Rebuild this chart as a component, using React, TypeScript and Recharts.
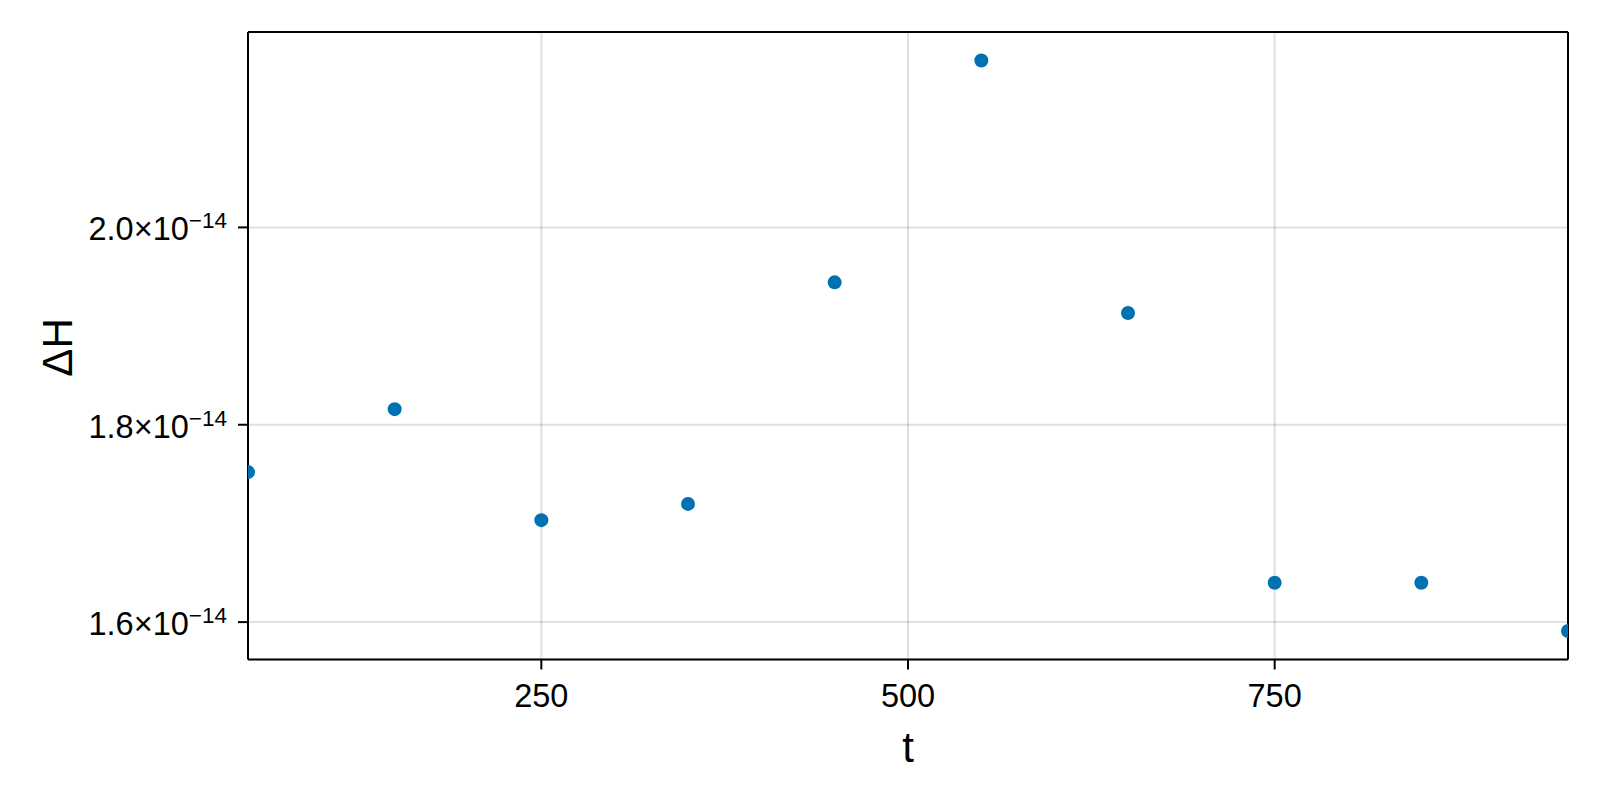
import React from 'react';
import { ScatterChart, Scatter, XAxis, YAxis, CartesianGrid, ReferenceLine } from 'recharts';

const tValues = [50, 150, 250, 350, 450, 550, 650, 750, 850, 950];
const dHValues = [1.752e-14, 1.8158e-14, 1.7033e-14, 1.7198e-14, 1.9443e-14, 2.1691e-14, 1.9133e-14, 1.6399e-14, 1.6399e-14, 1.591e-14];
const xTicks = [250, 500, 750];
const yTicks = [1.6e-14, 1.8e-14, 2.0e-14];
const xDomain = [50, 950];
const yDomain = [1.5621e-14, 2.198e-14];

const data = tValues.map((t, i) => ({ t, dH: dHValues[i] }));

const FONT = "'Liberation Sans', Arial, Helvetica, sans-serif";
const BLUE = '#0072B2';

const YTick = (props: any) => {
  const { x, y, payload } = props;
  const mant = (payload.value / 1e-14).toFixed(1);
  return (
    <text x={x} y={y} dy={13} textAnchor="end" fontSize={32.5} fill="#000" fontFamily={FONT}>
      {mant}×10
      <tspan fontSize={22.5} dy={-12}>−14</tspan>
    </text>
  );
};

const XLabel = (props: any) => {
  const vb = props.viewBox || {};
  return (
    <text x={vb.x + vb.width / 2} y={vb.y + 102} textAnchor="middle" fontSize={42} fill="#000" fontFamily={FONT}>
      t
    </text>
  );
};

const YLabel = (props: any) => {
  const vb = props.viewBox || {};
  const cx = 71.7;
  const cy = vb.y + vb.height / 2 + 1.7;
  return (
    <text x={cx} y={cy} textAnchor="middle" fontSize={42} fill="#000" fontFamily={FONT} transform={`rotate(-90, ${cx}, ${cy})`}>
      ΔH
    </text>
  );
};

const Dot = (props: any) => <circle cx={props.cx} cy={props.cy} r={7} fill={BLUE} />;

export default function App() {
  return (
    <div style={{ position: 'absolute', left: 0, top: 0, width: 1600, height: 800, background: '#fff' }}>
      <ScatterChart width={1600} height={800} margin={{ top: 32, right: 32, left: 0, bottom: 80.5 }}>
        <CartesianGrid stroke="#000" strokeOpacity={0.12} strokeWidth={2} />
        <XAxis
          type="number"
          dataKey="t"
          domain={xDomain}
          ticks={xTicks}
          allowDataOverflow
          height={60}
          tickSize={10}
          tickMargin={14}
          axisLine={{ stroke: '#000', strokeWidth: 2 }}
          tickLine={{ stroke: '#000', strokeWidth: 2 }}
          tick={{ fontSize: 32.5, fill: '#000', fontFamily: FONT }}
          label={{ value: 't', content: XLabel }}
        />
        <YAxis
          type="number"
          dataKey="dH"
          domain={yDomain}
          ticks={yTicks}
          allowDataOverflow
          width={248}
          tickSize={10}
          tickMargin={11}
          axisLine={{ stroke: '#000', strokeWidth: 2 }}
          tickLine={{ stroke: '#000', strokeWidth: 2 }}
          tick={<YTick />}
          label={{ value: 'ΔH', content: YLabel }}
        />
        <Scatter data={data} fill={BLUE} shape={<Dot />} isAnimationActive={false} />
        <ReferenceLine y={yDomain[1]} stroke="#000" strokeWidth={2} ifOverflow="visible" />
        <ReferenceLine x={xDomain[1]} stroke="#000" strokeWidth={2} ifOverflow="visible" />
      </ScatterChart>
    </div>
  );
}
